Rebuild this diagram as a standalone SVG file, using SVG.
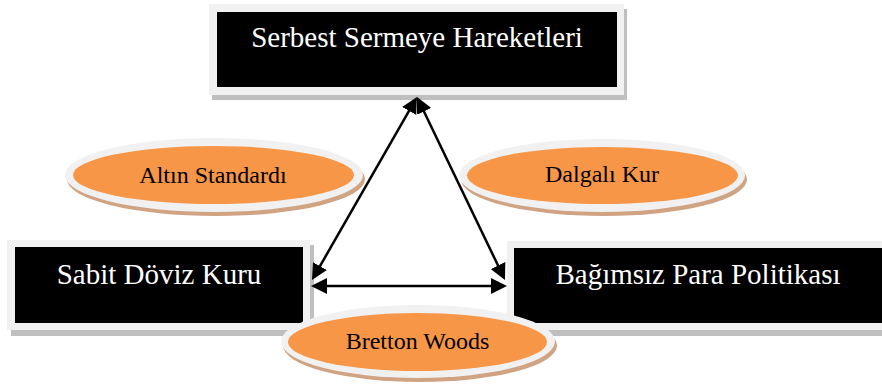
<svg xmlns="http://www.w3.org/2000/svg" width="882" height="385" viewBox="0 0 882 385">
<style>
.frame{fill:#f1f1f1}
.shadow{fill:#bfbfbf}
.box{fill:#000}
.btext{font-family:"Liberation Serif","Times New Roman",serif;font-size:29px;fill:#fff;text-anchor:middle}
.eshadow{fill:#d0a383}
.eframe{fill:#f1f1f1}
.ell{fill:#f79646}
.etext{font-family:"Liberation Serif","Times New Roman",serif;font-size:24px;fill:#000;text-anchor:middle}
.conn{stroke:#000;stroke-width:2.5;fill:none;marker-start:url(#ah);marker-end:url(#ah)}
</style>
<defs>
<marker id="ah" markerUnits="userSpaceOnUse" markerWidth="17" markerHeight="17" viewBox="0 0 17 16" refX="13" refY="8" orient="auto-start-reverse">
<path d="M0,0 L16,8 L0,16 z" fill="#000"/>
</marker>
</defs>
<rect width="882" height="385" fill="#fff"/>
<g id="node-serbest">
<rect class="shadow" x="212" y="9" width="415" height="91"/>
<rect class="frame" x="209" y="4" width="415" height="91"/>
<rect class="box" x="217" y="12" width="400" height="75"/>
<text class="btext" x="417" y="47">Serbest Sermeye Hareketleri</text>
</g>
<g id="node-sabit">
<rect class="shadow" x="11" y="245" width="303" height="91"/>
<rect class="frame" x="7" y="240" width="303" height="90"/>
<rect class="box" x="15" y="247" width="288" height="76"/>
<text class="btext" x="159" y="284">Sabit Döviz Kuru</text>
</g>
<g id="node-bagimsiz">
<rect class="shadow" x="511" y="246" width="380" height="90"/>
<rect class="frame" x="507" y="241" width="380" height="89"/>
<rect class="box" x="514" y="248" width="372" height="75"/>
<text class="btext" x="698" y="284">Bağımsız Para Politikası</text>
</g>
<g id="connectors">
<line class="conn" x1="415.5" y1="99.6" x2="313.5" y2="277.4"/>
<line class="conn" x1="418.3" y1="99.7" x2="503.7" y2="277.3"/>
<line class="conn" x1="314" y1="286" x2="504" y2="286"/>
</g>
<g id="node-altin">
<ellipse class="eshadow" cx="216" cy="179" rx="149" ry="37"/>
<ellipse class="eframe" cx="214" cy="175" rx="149" ry="37"/>
<ellipse class="ell" cx="213.5" cy="175" rx="140.5" ry="29"/>
<text class="etext" x="213" y="183">Altın Standardı</text>
</g>
<g id="node-dalgali">
<ellipse class="eshadow" cx="604" cy="179.5" rx="143" ry="36.5"/>
<ellipse class="eframe" cx="602" cy="175.5" rx="143" ry="36.5"/>
<ellipse class="ell" cx="602.5" cy="175.5" rx="135.5" ry="28.5"/>
<text class="etext" x="602" y="182">Dalgalı Kur</text>
</g>
<g id="node-bretton">
<ellipse class="eshadow" cx="420" cy="345.5" rx="137" ry="36.5"/>
<ellipse class="eframe" cx="418" cy="341.5" rx="137" ry="36.5"/>
<ellipse class="ell" cx="417.5" cy="342" rx="129.5" ry="29"/>
<text class="etext" x="417.5" y="349">Bretton Woods</text>
</g>
</svg>
